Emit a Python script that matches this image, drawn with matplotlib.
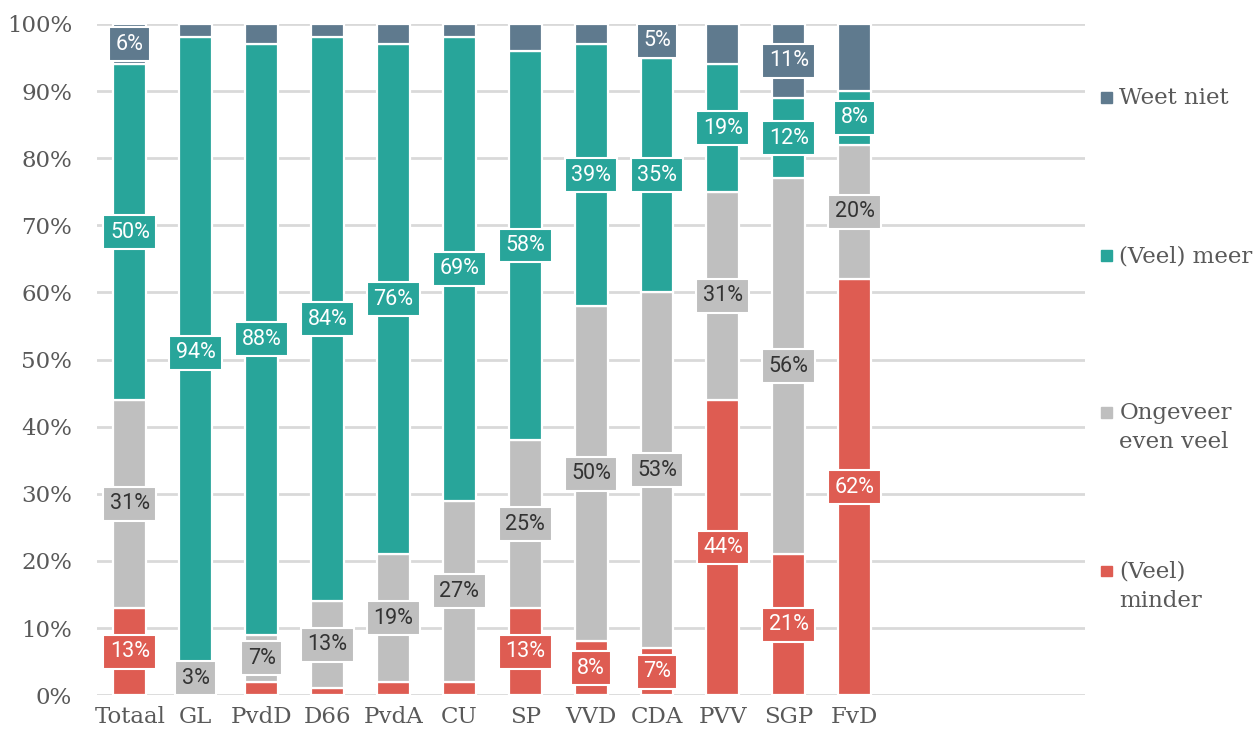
import numpy as np
import matplotlib
matplotlib.use("Agg")
import matplotlib.pyplot as plt
from matplotlib.patches import Rectangle

partijen = ["Totaal", "GL", "PvdD", "D66", "PvdA", "CU", "SP", "VVD", "CDA", "PVV", "SGP", "FvD"]

minder   = [13, 1, 2, 1, 2, 2, 13, 8, 7, 44, 21, 62]
ongeveer = [31, 3, 7, 13, 19, 27, 25, 50, 53, 31, 56, 20]
meer     = [50, 94, 88, 84, 76, 69, 58, 39, 35, 19, 12, 8]
weetniet = [6, 2, 3, 2, 3, 2, 4, 3, 5, 6, 11, 10]

# which segments carry a value label
toon_minder   = [1, 0, 0, 0, 0, 0, 1, 1, 1, 1, 1, 1]
toon_ongeveer = [1, 1, 1, 1, 1, 1, 1, 1, 1, 1, 1, 1]
toon_meer     = [1, 1, 1, 1, 1, 1, 1, 1, 1, 1, 1, 1]
toon_weet     = [1, 0, 0, 0, 0, 0, 0, 0, 1, 0, 1, 0]

reeksen = [
    ("(Veel)\nminder",       minder,   toon_minder,   "#DE5C52", "white"),
    ("Ongeveer\neven veel",  ongeveer, toon_ongeveer, "#BFBFBF", "#333333"),
    ("(Veel) meer",          meer,     toon_meer,     "#28A59A", "white"),
    ("Weet niet",            weetniet, toon_weet,     "#5F7A8E", "white"),
]

SERIF = ["DejaVu Serif"]
TXT = "#595959"

fig = plt.figure(figsize=(12.59, 7.38), dpi=100)
ax = fig.add_axes([0.077, 0.058, 0.785, 0.9095])

x = np.arange(len(partijen))
onder = np.zeros(len(partijen))
for naam, waarden, toon, kleur, tkleur in reeksen:
    w = np.array(waarden, dtype=float)
    ax.bar(x, w, bottom=onder, width=0.5, color=kleur, edgecolor="white",
           linewidth=1.6, zorder=3)
    for i in range(len(partijen)):
        if toon[i]:
            ax.text(x[i], onder[i] + w[i] / 2, f"{int(w[i])}%", ha="center", va="center",
                    fontsize=15.5, family=["Roboto", "DejaVu Sans"], color=tkleur, zorder=5,
                    bbox=dict(boxstyle="square,pad=0.3", fc=kleur, ec="white", lw=1.5))
    onder += w

ax.set_xlim(-0.5, 14.5)
ax.set_ylim(0, 100)
ax.set_yticks(np.arange(0, 101, 10))
ax.set_yticklabels([f"{v}%" for v in range(0, 101, 10)])
ax.set_xticks(x)
ax.set_xticklabels(partijen)
ax.yaxis.grid(True, color="#D9D9D9", linewidth=2, zorder=0)
ax.set_axisbelow(True)
for s in ax.spines.values():
    s.set_visible(False)
ax.tick_params(axis="both", length=0, colors=TXT, labelsize=16.5)
ax.tick_params(axis="y", pad=18)
ax.tick_params(axis="x", pad=8)
for lab in ax.get_xticklabels() + ax.get_yticklabels():
    lab.set_family(SERIF)

# legend on the right
leg_y = [0.867, 0.653, 0.440, 0.225]
for (naam, _, _, kleur, _), yy in zip(reversed(reeksen), leg_y):
    fig.patches.append(Rectangle((0.8745, yy - 0.006), 0.0085, 0.0145,
                                 transform=fig.transFigure, color=kleur))
    fig.text(0.889, yy + 0.015, naam, ha="left", va="top", fontsize=16.5,
             family=SERIF, color=TXT, linespacing=1.4)

fig.savefig("out.png", dpi=100, facecolor="white")
